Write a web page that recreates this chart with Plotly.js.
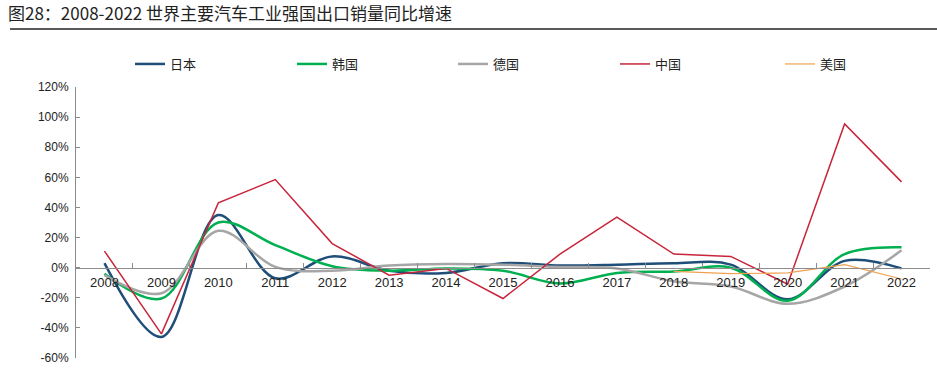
<!DOCTYPE html>
<html>
<head>
<meta charset="utf-8">
<script src="https://cdn.plot.ly/plotly-3.0.1.min.js"></script>
<style>html,body{margin:0;padding:0;background:#fff;}#chart{width:937px;height:374px;}</style>
</head>
<body>
<div id="chart"></div>
<script>
var years = ['2008','2009','2010','2011','2012','2013','2014','2015','2016','2017','2018','2019','2020','2021','2022'];
var japan   = [3, -46, 35, -7, 7.5, -2, -3.5, 3, 1.5, 2, 3, 2, -21, 4.5, -0.5];
var korea   = [-4, -20.5, 30, 15, 1, -2, -0.5, -2, -10.5, -3.5, -2.5, 0, -22, 9, 13.5];
var germany = [-5, -17, 24.5, 0.5, -2, 1.5, 2.5, 2, 0.5, -0.5, -9, -12.5, -24, -12.5, 11.5];
var china   = [11, -44, 43, 58.5, 16, -5, -0.5, -20.5, 9, 33.5, 9, 7.5, -11, 95.5, 57];
var usa     = [null, null, null, null, null, null, null, null, null, null, -2.5, -4, -3.5, 2, -7.5];
var names   = ['日本', '韩国', '德国', '中国', '美国'];
var yTicks  = [-60, -40, -20, 0, 20, 40, 60, 80, 100, 120];

var tickText = yTicks.map(function(v){ return v + '%'; });
var legendIds = ['legend', 'legend2', 'legend3', 'legend4', 'legend5'];
function tr(i, y, color, width, shape) {
  return {x: years, y: y, name: names[i], type: 'scatter', mode: 'lines', legend: legendIds[i],
          line: {color: color, width: width, shape: shape, smoothing: 1},
          connectgaps: false, hoverinfo: 'skip'};
}
var data = [
  tr(0, japan, '#1F4E79', 2.5, 'spline'),
  tr(1, korea, '#00B050', 2.5, 'spline'),
  tr(2, germany, '#A6A6A6', 2.5, 'spline'),
  tr(3, china, '#C8243A', 1.5, 'linear'),
  tr(4, usa, '#F0A050', 1.2, 'linear')
];
var layout = {
  width: 937, height: 374,
  margin: {l: 76, r: 7, t: 87, b: 16, pad: 0},
  paper_bgcolor: '#fff', plot_bgcolor: '#fff',
  font: {family: '"Liberation Sans", Arial, "Noto Sans CJK SC", sans-serif', color: '#222', size: 12},
  title: {text: '图28：2008-2022 世界主要汽车工业强国出口销量同比增速',
          x: 8/937, xref: 'container', xanchor: 'left',
          y: 1 - 14/374, yref: 'container', yanchor: 'middle',
          font: {family: '"Noto Sans CJK SC", sans-serif', size: 17, color: '#222'}},
  showlegend: true,
  xaxis: {type: 'category', range: [-0.5, 14.5], anchor: 'free', position: 60/180,
          showline: true, linecolor: '#8c8c8c', linewidth: 1.2,
          ticks: 'inside', tickson: 'boundaries', ticklen: 5, tickcolor: '#8c8c8c', tickwidth: 1,
          showgrid: false, zeroline: false, tickfont: {size: 13, color: '#222'}, ticklabelstandoff: 3},
  yaxis: {range: [-60, 120], tickvals: yTicks, ticktext: tickText,
          showline: true, linecolor: '#8c8c8c', linewidth: 1,
          ticks: 'inside', ticklen: 4, tickcolor: '#8c8c8c',
          showgrid: false, zeroline: false, tickfont: {size: 12, color: '#222'}, ticklabelstandoff: 4},
  shapes: [{type: 'line', xref: 'paper', yref: 'paper', x0: (10-76)/854, x1: (937-76)/854,
            y0: 1 + (87-29)/271, y1: 1 + (87-29)/271, line: {color: '#222', width: 1.5}}]
};
var legendStarts = [130, 292, 453, 615, 780];
legendIds.forEach(function(id, i){
  layout[id] = {orientation: 'h', x: (legendStarts[i]-76)/854, xanchor: 'left',
                y: 1 + (87-64)/271, yanchor: 'middle', itemwidth: 30,
                font: {family: '"Noto Sans CJK SC", sans-serif', size: 13, color: '#222'},
                bgcolor: 'rgba(0,0,0,0)', borderwidth: 0};
});
Plotly.newPlot('chart', data, layout, {displayModeBar: false, staticPlot: true});
</script>
</body>
</html>
